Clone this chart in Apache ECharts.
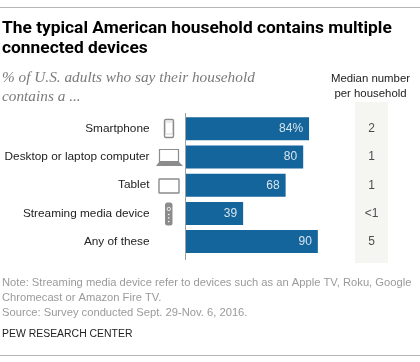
<!DOCTYPE html>
<html><head><meta charset="utf-8">
<style>html,body{margin:0;padding:0;background:#fff}#c{width:420px;height:362px}</style>
<script src="https://cdn.jsdelivr.net/npm/echarts@6/dist/echarts.min.js"></script>
</head><body><div id="c"></div>
<script>
const categories = ['Smartphone','Desktop or laptop computer','Tablet','Streaming media device','Any of these'];
const shares = [84,80,68,39,90];
const medians = ['2','1','1','<1','5'];
const titleLines = ['The typical American household contains multiple','connected devices'];
const subtitleLines = ['% of U.S. adults who say their household','contains a ...'];
const medianHeader = ['Median number','per household'];
const noteLines = ['Note: Streaming media device refer to devices such as an Apple TV, Roku, Google','Chromecast or Amazon Fire TV.','Source: Survey conducted Sept. 29-Nov. 6, 2016.'];
const credit = 'PEW RESEARCH CENTER';

const SANS = '"Liberation Sans", Arial, sans-serif';
const txt = (x,y,text,style)=>({type:'text',x,y,silent:true,style:Object.assign({text,textVerticalAlign:'middle',fontFamily:SANS},style)});
const rect = (x,y,w,h,style,r)=>({type:'rect',silent:true,shape:{x,y,width:w,height:h,r:r||0},style});
const G='#8c8c8c';
const graphics = [
  rect(0,7,420,1,{fill:'#b5b5b5'}),
  rect(0,355,420,1,{fill:'#b5b5b5'}),
  rect(355,102,33,161,{fill:'#f5f5f1'}),
  rect(185,113,1,147,{fill:'#a0a0a0'}),
  ...titleLines.map((t,i)=>txt(2,29+i*20,t,{fontFamily:'Roboto, '+SANS,fontWeight:'bold',fontSize:17.35,fill:'#000'})),
  ...subtitleLines.map((t,i)=>txt(2,78+i*19,t,{fontFamily:'"Liberation Serif", serif',fontStyle:'italic',fontSize:15.3,fill:'#7a7a7a'})),
  ...medianHeader.map((t,i)=>txt(370.5,79+i*14.5,t,{textAlign:'center',fontSize:11.4,fill:'#222'})),
  ...noteLines.map((t,i)=>txt(2,283+i*15,t,{fontSize:11.2,fill:'#9a9a9a'})),
  txt(2,334.5,credit,{fontSize:10.45,fill:'#222'}),
  // icons
  rect(164.5,119.5,9,18,{fill:'#fff',stroke:G,lineWidth:1.4},1.5),
  rect(165.5,122,7,12,{fill:'#fff',stroke:'#bbb',lineWidth:.6}),
  rect(159.5,149.5,19,12,{fill:'#fff',stroke:G,lineWidth:1.2}),
  {type:'polygon',silent:true,shape:{points:[[159,162],[179,162],[183,166],[156,166]]},style:{fill:G}},
  rect(159,179,20,14,{fill:'#fff',stroke:G,lineWidth:1.4},.5),
  rect(165,202.5,7.5,23,{fill:G},2.5),
  {type:'circle',silent:true,shape:{cx:168.8,cy:209,r:1.7},style:{fill:G,stroke:'#fff',lineWidth:.8}},
  {type:'circle',silent:true,shape:{cx:168.8,cy:214.5,r:.8},style:{fill:'#fff'}},
  {type:'circle',silent:true,shape:{cx:168.8,cy:218,r:.8},style:{fill:'#fff'}},
  {type:'circle',silent:true,shape:{cx:168.8,cy:221.5,r:.8},style:{fill:'#fff'}}
];
const chart = echarts.init(document.getElementById('c'),null,{renderer:'canvas'});
chart.setOption({
  animation:false,
  backgroundColor:'#fff',
  graphic:{elements:graphics},
  grid:[
    {left:186,top:114.7,width:146.5,height:141},
    {left:355,top:114.7,width:33,height:141}
  ],
  xAxis:[
    {gridIndex:0,type:'value',min:0,max:100,show:false},
    {gridIndex:1,type:'value',min:0,max:1,show:false}
  ],
  yAxis:[
    {gridIndex:0,type:'category',inverse:true,data:categories,
     axisTick:{show:false},
     axisLine:{show:false},
     axisLabel:{fontFamily:SANS,fontSize:11.8,color:'#222',margin:36.5,align:'right',padding:[3,0,0,0]}},
    {gridIndex:1,type:'category',inverse:true,data:medians,show:false}
  ],
  series:[
    {type:'bar',xAxisIndex:0,yAxisIndex:0,data:shares,barWidth:23,
     itemStyle:{color:'#14659b'},
     label:{show:true,position:'insideRight',distance:6,fontFamily:SANS,fontSize:12,color:'#d6e4ee',
       formatter:p=>p.dataIndex===0?p.value+'%':''+p.value}},
    {type:'scatter',xAxisIndex:1,yAxisIndex:1,symbolSize:0,
     data:medians.map((m,i)=>[0.5,i]),
     label:{show:true,position:'inside',fontFamily:SANS,fontSize:12,color:'#222',
       formatter:p=>medians[p.dataIndex]}}
  ]
});
</script></body></html>
